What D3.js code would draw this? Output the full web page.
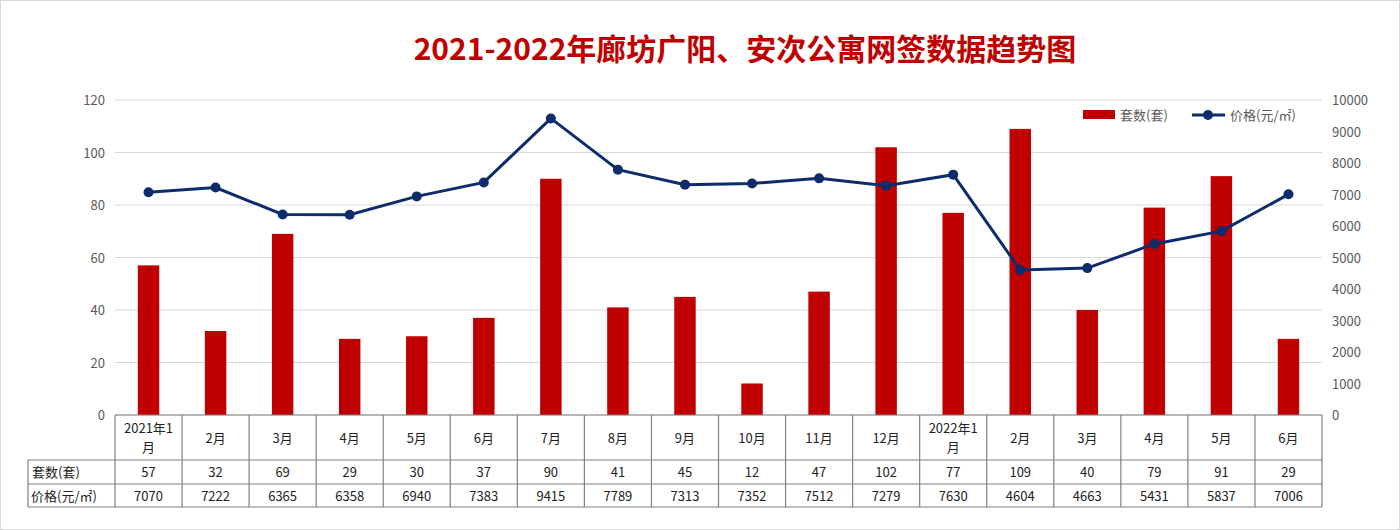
<!DOCTYPE html><html><head><meta charset="utf-8"><script src="https://cdn.jsdelivr.net/npm/d3@7"></script>
<style>body{margin:0;background:#fff}text{font-family:"Noto Sans CJK SC","Microsoft YaHei",sans-serif}</style></head><body><svg id="c" width="1400" height="530"></svg><script>
const categories=["2021年1\n月","2月","3月","4月","5月","6月","7月","8月","9月","10月","11月","12月","2022年1\n月","2月","3月","4月","5月","6月"];
const counts=[57,32,69,29,30,37,90,41,45,12,47,102,77,109,40,79,91,29];
const prices=[7070,7222,6365,6358,6940,7383,9415,7789,7313,7352,7512,7279,7630,4604,4663,5431,5837,7006];
const leftTicks=[0,20,40,60,80,100,120];
const rightTicks=[0,1000,2000,3000,4000,5000,6000,7000,8000,9000,10000];
const svg=d3.select("#c");
svg.append("rect").attr("x",0.5).attr("y",0.5).attr("width",1399).attr("height",529).attr("fill","#fff").attr("stroke","#d9d9d9");
const L=115,R=1322,T=100,B=415;
const x=d3.scaleBand().domain(d3.range(categories.length)).range([L,R]);
const yl=d3.scaleLinear().domain([0,120]).range([B,T]);
const yr=d3.scaleLinear().domain([0,10000]).range([B,T]);
svg.append("text").attr("x",745).attr("y",60).attr("text-anchor","middle").attr("font-size",30).attr("font-weight","bold").attr("fill","#c00000").text("2021-2022年廊坊广阳、安次公寓网签数据趋势图");
svg.append("g").selectAll("line").data(leftTicks).join("line").attr("x1",L).attr("x2",R).attr("y1",d=>yl(d)).attr("y2",d=>yl(d)).attr("stroke","#d9d9d9");
svg.append("g").selectAll("text").data(leftTicks).join("text").attr("x",105).attr("y",d=>yl(d)+5).attr("text-anchor","end").attr("font-size",13).attr("fill","#595959").text(d=>d);
svg.append("g").selectAll("text").data(rightTicks).join("text").attr("x",1332).attr("y",d=>yr(d)+5).attr("font-size",13).attr("fill","#595959").text(d=>d);
const bw=x.bandwidth()*0.32;
svg.append("g").selectAll("rect").data(counts).join("rect").attr("x",(d,i)=>x(i)+x.bandwidth()/2-bw/2).attr("width",bw).attr("y",d=>yl(d)).attr("height",d=>B-yl(d)).attr("fill","#c00000");
const line=d3.line().x((d,i)=>x(i)+x.bandwidth()/2).y(d=>yr(d));
svg.append("path").attr("d",line(prices)).attr("fill","none").attr("stroke","#0d2c6c").attr("stroke-width",3);
svg.append("g").selectAll("circle").data(prices).join("circle").attr("cx",(d,i)=>x(i)+x.bandwidth()/2).attr("cy",d=>yr(d)).attr("r",5).attr("fill","#0d2c6c");
// legend
svg.append("rect").attr("x",1083).attr("y",110).attr("width",32).attr("height",9).attr("fill","#c00000");
svg.append("text").attr("x",1120).attr("y",120).attr("font-size",13).attr("fill","#595959").text("套数(套)");
svg.append("line").attr("x1",1192).attr("x2",1225).attr("y1",115).attr("y2",115).attr("stroke","#0d2c6c").attr("stroke-width",3);
svg.append("circle").attr("cx",1208).attr("cy",115).attr("r",5).attr("fill","#0d2c6c");
svg.append("text").attr("x",1230).attr("y",120).attr("font-size",13).attr("fill","#595959").text("价格(元/㎡)");
// table
const g=svg.append("g").attr("stroke","#808080").attr("stroke-width",1.2);
const r1=415,r2=460,r3=484,r4=507,TL=28;
g.append("line").attr("x1",L).attr("x2",R).attr("y1",r1).attr("y2",r1);
[r2,r3,r4].forEach(y=>g.append("line").attr("x1",TL).attr("x2",R).attr("y1",y).attr("y2",y));
g.append("line").attr("x1",TL).attr("x2",TL).attr("y1",r2).attr("y2",r4);
d3.range(categories.length+1).forEach(i=>{const xx=i<categories.length?x(i):R;g.append("line").attr("x1",xx).attr("x2",xx).attr("y1",r1).attr("y2",r4);});
const tc=svg.append("g").attr("font-size",13).attr("fill","#222").attr("text-anchor","middle");
categories.forEach((c,i)=>{const cx=x(i)+x.bandwidth()/2;const parts=c.split("\n");
 if(parts.length==1)tc.append("text").attr("x",cx).attr("y",443).text(c);
 else{tc.append("text").attr("x",cx).attr("y",433).text(parts[0]);tc.append("text").attr("x",cx).attr("y",452).text(parts[1]);}
 tc.append("text").attr("x",cx).attr("y",477).text(counts[i]);
 tc.append("text").attr("x",cx).attr("y",501).text(prices[i]);});
svg.append("text").attr("x",32).attr("y",477).attr("font-size",13).attr("fill","#222").text("套数(套)");
svg.append("text").attr("x",31).attr("y",501).attr("font-size",13).attr("fill","#222").text("价格(元/㎡)");
</script></body></html>
